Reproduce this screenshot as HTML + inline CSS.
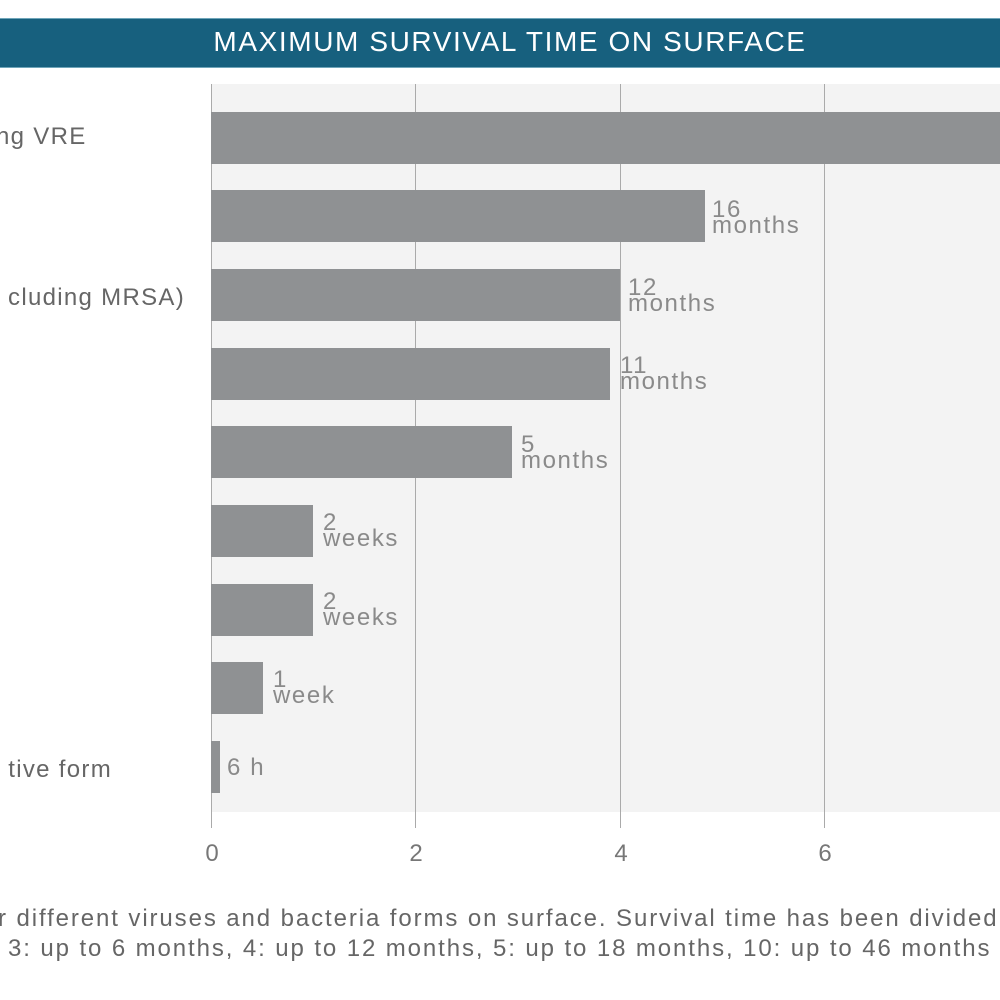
<!DOCTYPE html>
<html><head><style>
body{margin:0;width:1000px;height:1000px;background:#fff;overflow:hidden;position:relative;font-family:"Liberation Sans",sans-serif}
.t{position:absolute;white-space:nowrap}
.bar{position:absolute;left:211px;height:52px;background:#8f9193}
.v{position:absolute;color:#8a8a8a;font-size:24px;line-height:16px;white-space:nowrap;letter-spacing:1.6px}
.g{position:absolute;top:84px;height:744px;width:1px;background:#aaa}
.tk{position:absolute;top:840px;font-size:24px;color:#777;width:40px;margin-left:-20px;text-align:center}
.lb{position:absolute;font-size:24px;color:#666;white-space:nowrap;letter-spacing:1.3px}
</style></head><body>
<div style="position:absolute;left:0;top:18px;width:1000px;height:48px;background:#17607e;border-top:1px solid #6fa5b9;border-bottom:1px solid #6fa5b9"></div>
<div class="t" style="left:0;width:1020px;text-align:center;top:26px;font-size:28px;color:#fff;letter-spacing:1.6px">MAXIMUM SURVIVAL TIME ON SURFACE</div>
<div style="position:absolute;left:211px;top:84px;width:789px;height:728px;background:#f3f3f3"></div>
<div class="g" style="left:211px"></div><div class="g" style="left:415px"></div><div class="g" style="left:620px"></div><div class="g" style="left:824px"></div>
<div class="bar" style="top:112px;width:789px"></div>
<div class="bar" style="top:190px;width:494px"></div>
<div class="bar" style="top:269px;width:409px"></div>
<div class="bar" style="top:348px;width:399px"></div>
<div class="bar" style="top:426px;width:301px"></div>
<div class="bar" style="top:505px;width:102px"></div>
<div class="bar" style="top:584px;width:102px"></div>
<div class="bar" style="top:662px;width:52px"></div>
<div class="bar" style="top:741px;width:9px"></div>
<div class="v" style="left:712px;top:202px">16<br>months</div>
<div class="v" style="left:628px;top:280px">12<br>months</div>
<div class="v" style="left:620px;top:358px">11<br>months</div>
<div class="v" style="left:521px;top:437px">5<br>months</div>
<div class="v" style="left:323px;top:515px">2<br>weeks</div>
<div class="v" style="left:323px;top:594px">2<br>weeks</div>
<div class="v" style="left:273px;top:672px">1<br>week</div>
<div class="v" style="left:227px;top:760px">6 h</div>
<div class="lb" style="left:-4px;top:123px">ng VRE</div>
<div class="lb" style="right:815px;top:284px">cluding MRSA)</div>
<div class="lb" style="right:888px;top:756px">tive form</div>
<div class="tk" style="left:212px">0</div><div class="tk" style="left:416px">2</div><div class="tk" style="left:621px">4</div><div class="tk" style="left:825px">6</div>
<div class="lb" style="left:-2px;top:905px;letter-spacing:1.9px">r different viruses and bacteria forms on surface. Survival time has been divided</div>
<div class="lb" style="left:8px;top:935px;letter-spacing:1.9px">3: up to 6 months, 4: up to 12 months, 5: up to 18 months, 10: up to 46 months</div>
</body></html>
